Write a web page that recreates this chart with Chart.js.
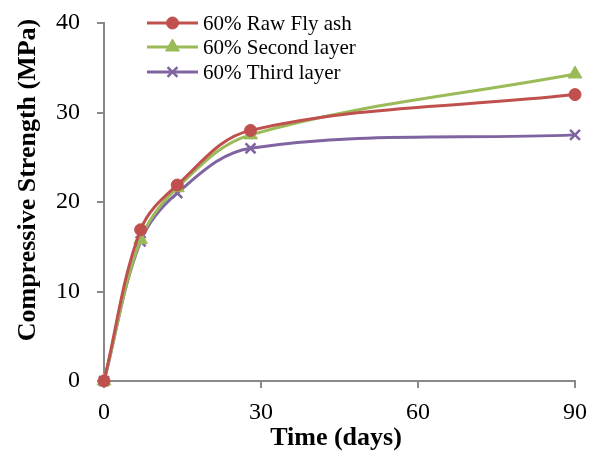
<!DOCTYPE html>
<html><head><meta charset="utf-8">
<script src="https://cdn.jsdelivr.net/npm/chart.js@4/dist/chart.umd.min.js"></script>
<style>html,body{margin:0;padding:0;background:#fff}#wrap{width:596px;height:454px}</style>
</head><body><div id="wrap"><canvas id="c" width="596" height="454"></canvas></div>
<script>
const days = [0, 7, 14, 28, 90];
const rawFlyAsh = [0, 16.9, 21.9, 28.0, 32.0];
const secondLayer = [0, 15.8, 21.6, 27.5, 34.3];
const thirdLayer = [0, 15.6, 21.0, 26.0, 27.5];
const seriesNames = ['60% Raw Fly ash', '60% Second layer', '60% Third layer'];
const xTicks = [0, 30, 60, 90];
const yTicks = [0, 10, 20, 30, 40];
const xTitle = 'Time (days)';
const yTitle = 'Compressive Strength (MPa)';

const serif = '"Liberation Serif", "Times New Roman", serif';
const axisColor = '#898989';

function pts(vals){ return days.map((d,i)=>({x:d,y:vals[i]})); }

const annotPlugin = {
  id: 'customLegendTitles',
  afterDraw(chart){
    const ctx = chart.ctx;
    const x0 = 147, x1 = 198, ys = [23, 47, 72];
    chart.data.datasets.forEach((ds, i) => {
      const y = ys[i];
      ctx.save();
      ctx.strokeStyle = ds.borderColor; ctx.lineWidth = 3;
      ctx.beginPath(); ctx.moveTo(x0, y); ctx.lineTo(x1, y); ctx.stroke();
      ctx.fillStyle = ds.pointBackgroundColor; ctx.strokeStyle = ds.pointBorderColor; ctx.lineWidth = ds.pointBorderWidth;
      Chart.helpers.drawPoint(ctx, {pointStyle: ds.pointStyle, radius: ds.pointRadius, borderWidth: ds.pointBorderWidth, rotation: 0}, (x0+x1)/2, y);
      ctx.fillStyle = '#000'; ctx.font = '21px ' + serif; ctx.textBaseline = 'middle'; ctx.textAlign = 'left';
      ctx.fillText(ds.label, 203, y + 1);
      ctx.restore();
    });
    ctx.save();
    ctx.fillStyle = '#000';
    ctx.font = 'bold 26px ' + serif;
    ctx.textAlign = 'center'; ctx.textBaseline = 'middle';
    ctx.fillText(xTitle, 336, 438);
    ctx.translate(28, 180);
    ctx.rotate(-Math.PI / 2);
    ctx.fillText(yTitle, 0, 0);
    ctx.restore();
  }
};

const colors = ['#C0504D', '#9BBB59', '#8064A2'];
const styles = ['circle', 'triangle', 'crossRot'];
const radii = [6, 8, 7];
const values = [rawFlyAsh, secondLayer, thirdLayer];

new Chart(document.getElementById('c'), {
  type: 'line',
  data: {
    datasets: values.map((v, i) => ({
      label: seriesNames[i],
      data: pts(v),
      borderColor: colors[i],
      backgroundColor: colors[i],
      pointBackgroundColor: colors[i],
      pointBorderColor: colors[i],
      pointBorderWidth: i === 2 ? 2.5 : 1,
      borderWidth: 3,
      pointStyle: styles[i],
      pointRadius: radii[i],
      tension: 0.36,
      clip: false
    }))
  },
  options: {
    responsive: false,
    animation: false,
    devicePixelRatio: 1,
    layout: { padding: { left: 0, right: 21, top: 23, bottom: 0 } },
    plugins: { legend: { display: false }, tooltip: { enabled: false } },
    scales: {
      x: {
        type: 'linear', min: 0, max: 90,
        afterBuildTicks(s){ s.ticks = xTicks.map(v => ({value: v})); },
        afterFit(s){ s.height = 73; s.paddingLeft = 0; s.paddingRight = 0; },
        border: { color: axisColor, width: 2 },
        grid: { display: true, drawOnChartArea: false, drawTicks: true, tickLength: 7, color: axisColor, lineWidth: 2 },
        ticks: { color: '#000', font: { family: serif, size: 24 }, padding: 10, maxRotation: 0 },
        title: { display: false }
      },
      y: {
        type: 'linear', min: 0, max: 40,
        afterBuildTicks(s){ s.ticks = yTicks.map(v => ({value: v})); },
        afterFit(s){ s.width = 104; s.paddingTop = 0; s.paddingBottom = 0; },
        border: { color: axisColor, width: 2 },
        grid: { display: true, drawOnChartArea: false, drawTicks: true, tickLength: 7, color: axisColor, lineWidth: 2 },
        ticks: { color: '#000', font: { family: serif, size: 24 }, padding: 17 },
        title: { display: false }
      }
    }
  },
  plugins: [annotPlugin]
});
</script></body></html>
